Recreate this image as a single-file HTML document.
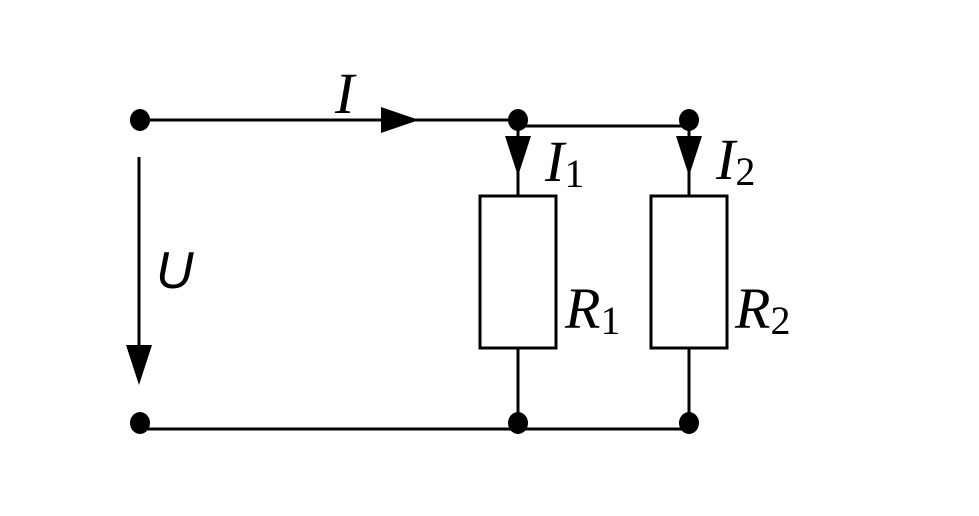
<!DOCTYPE html>
<html><head><style>body{margin:0;background:#fff}</style></head><body>
<svg width="979" height="511" viewBox="0 0 979 511" xmlns="http://www.w3.org/2000/svg">
<g stroke="#000" stroke-width="3" fill="none">
<line x1="139" y1="120" x2="518" y2="120"/>
<line x1="518" y1="126" x2="689" y2="126"/>
<line x1="518" y1="120" x2="518" y2="196"/>
<line x1="689" y1="120" x2="689" y2="196"/>
<rect x="480" y="196" width="76" height="152"/>
<rect x="651" y="196" width="76" height="152"/>
<line x1="518" y1="348" x2="518" y2="423"/>
<line x1="689" y1="348" x2="689" y2="423"/>
<line x1="139" y1="429" x2="689" y2="429"/>
<line x1="139" y1="157" x2="139" y2="350"/>
</g>
<g fill="#000">
<ellipse cx="140" cy="120" rx="10" ry="11"/>
<ellipse cx="518" cy="120" rx="10" ry="11"/>
<ellipse cx="689" cy="120" rx="10" ry="11"/>
<ellipse cx="140" cy="423" rx="10" ry="11"/>
<ellipse cx="518" cy="423" rx="10" ry="11"/>
<ellipse cx="689" cy="423" rx="10" ry="11"/>
<polygon points="381,107 419,120 381,133"/>
<polygon points="505,136 531,136 518,176"/>
<polygon points="676,136 702,136 689,176"/>
<polygon points="126,345 152,345 139,385"/>
</g>
<g font-family="Liberation Serif, serif" font-style="italic" font-size="58" fill="#000">
<text x="335" y="113">I</text>
<text x="545" y="181">I<tspan font-style="normal" font-size="40" dy="6">1</tspan></text>
<text x="716" y="179">I<tspan font-style="normal" font-size="40" dy="6">2</tspan></text>
<text x="565" y="328">R<tspan font-style="normal" font-size="40" dy="6">1</tspan></text>
<text x="735" y="328">R<tspan font-style="normal" font-size="40" dy="6">2</tspan></text>
</g>
<text x="156" y="288" font-family="Liberation Sans, sans-serif" font-style="italic" font-size="52" fill="#000">U</text>
</svg>
</body></html>
